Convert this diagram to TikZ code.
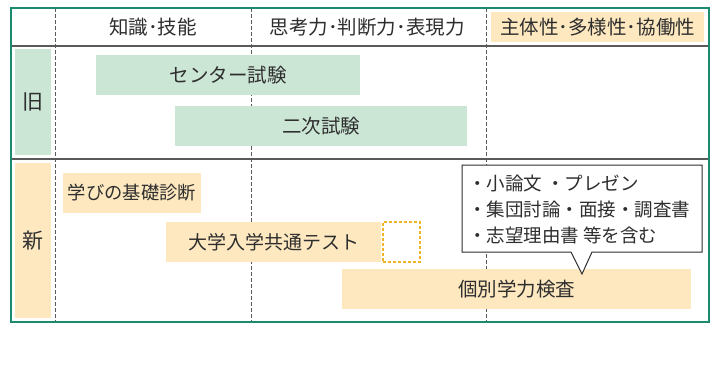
\documentclass[tikz,border=0pt]{standalone}
\usepackage{fontspec}
\setmainfont{Noto Sans CJK JP}
\definecolor{frameg}{HTML}{1B8A6E}
\definecolor{gfill}{HTML}{CCE6D6}
\definecolor{ofill}{HTML}{FDE8C0}
\definecolor{txt}{HTML}{2E2E2E}
\definecolor{sep}{HTML}{5A5A5A}
\definecolor{odash}{HTML}{F0B429}
\begin{document}
\begin{tikzpicture}[x=1pt,y=-1pt,
  every node/.style={text=txt, inner sep=0pt},
  gbox/.style={fill=gfill, font=\fontsize{19.5}{21}\selectfont},
  obox/.style={fill=ofill, font=\fontsize{19.5}{21}\selectfont},
  hdr/.style={font=\fontsize{19.5}{21}\selectfont},
  vdash/.style={draw=sep, line width=1pt, dash pattern=on 3.5pt off 2.5pt},
  hsep/.style={draw=sep, line width=1.4pt},
  calltxt/.style={font=\fontsize{18.5}{20}\selectfont, anchor=west}]
\useasboundingbox (0,0) rectangle (720,380);
\fill[white] (0,0) rectangle (720,380);
% grid coordinates
\coordinate (tl) at (11,8);
\coordinate (br) at (709,322);
% separators
\draw[hsep] (11,46) -- (709,46);
\draw[hsep] (11,159) -- (709,159);
\draw[vdash] (55.5,8) -- (55.5,322);
\draw[vdash] (251,8) -- (251,322);
\draw[vdash] (486,8) -- (486,322);
% headers
\node[hdr] (h1) at (153,27.5) {知識･技能};
\node[hdr] (h2) at (367,27.5) {思考力･判断力･表現力};
\node[hdr, fill=ofill, minimum width=213pt, minimum height=30pt] (h3) at (597.5,27) {主体性･多様性･協働性};
% row labels
\node[fill=gfill, minimum width=36pt, minimum height=106pt, font=\fontsize{21}{23}\selectfont] (old) at (33,102) {旧};
\node[fill=ofill, minimum width=36pt, minimum height=155pt, font=\fontsize{21}{23}\selectfont] (new) at (33,240.5) {新};
% old row boxes
\node[gbox, minimum width=264pt, minimum height=40pt] (center) at (228,75) {センター試験};
\node[gbox, minimum width=292pt, minimum height=40pt] (niji) at (321,126) {二次試験};
% new row boxes
\node[obox, font=\fontsize{18.3}{20}\selectfont, minimum width=138pt, minimum height=40pt] (kiso) at (132,193) {学びの基礎診断};
\node[obox, font=\fontsize{19}{21}\selectfont, minimum width=215pt, minimum height=40pt] (kyotsu) at (273.5,242) {大学入学共通テスト};
\node[draw=odash, line width=2pt, dash pattern=on 3pt off 2pt, minimum width=37pt, minimum height=40pt] (extra) at (401,241.5) {};
\node[obox, minimum width=349pt, minimum height=40pt] (kobetsu) at (516.5,289) {個別学力検査};
% callout
\coordinate (cTL) at (462,165);
\coordinate (cBR) at (702,252);
\coordinate (tip) at (582,274);
\draw[fill=white, draw=txt, line width=1pt] (cTL) -- (cTL -| cBR) -- (cBR) -- (592,252) -- (tip) -- (571,252) -- (cTL |- cBR) -- cycle;
\node[calltxt] (l1) at (468,183) {・小論文 ・プレゼン};
\node[calltxt] (l2) at (468,209.5) {・集団討論・面接・調査書};
\node[calltxt] (l3) at (468,235) {・志望理由書 等を含む};
% outer frame
\draw[frameg, line width=2pt] (tl) rectangle (br);
\end{tikzpicture}
\end{document}
